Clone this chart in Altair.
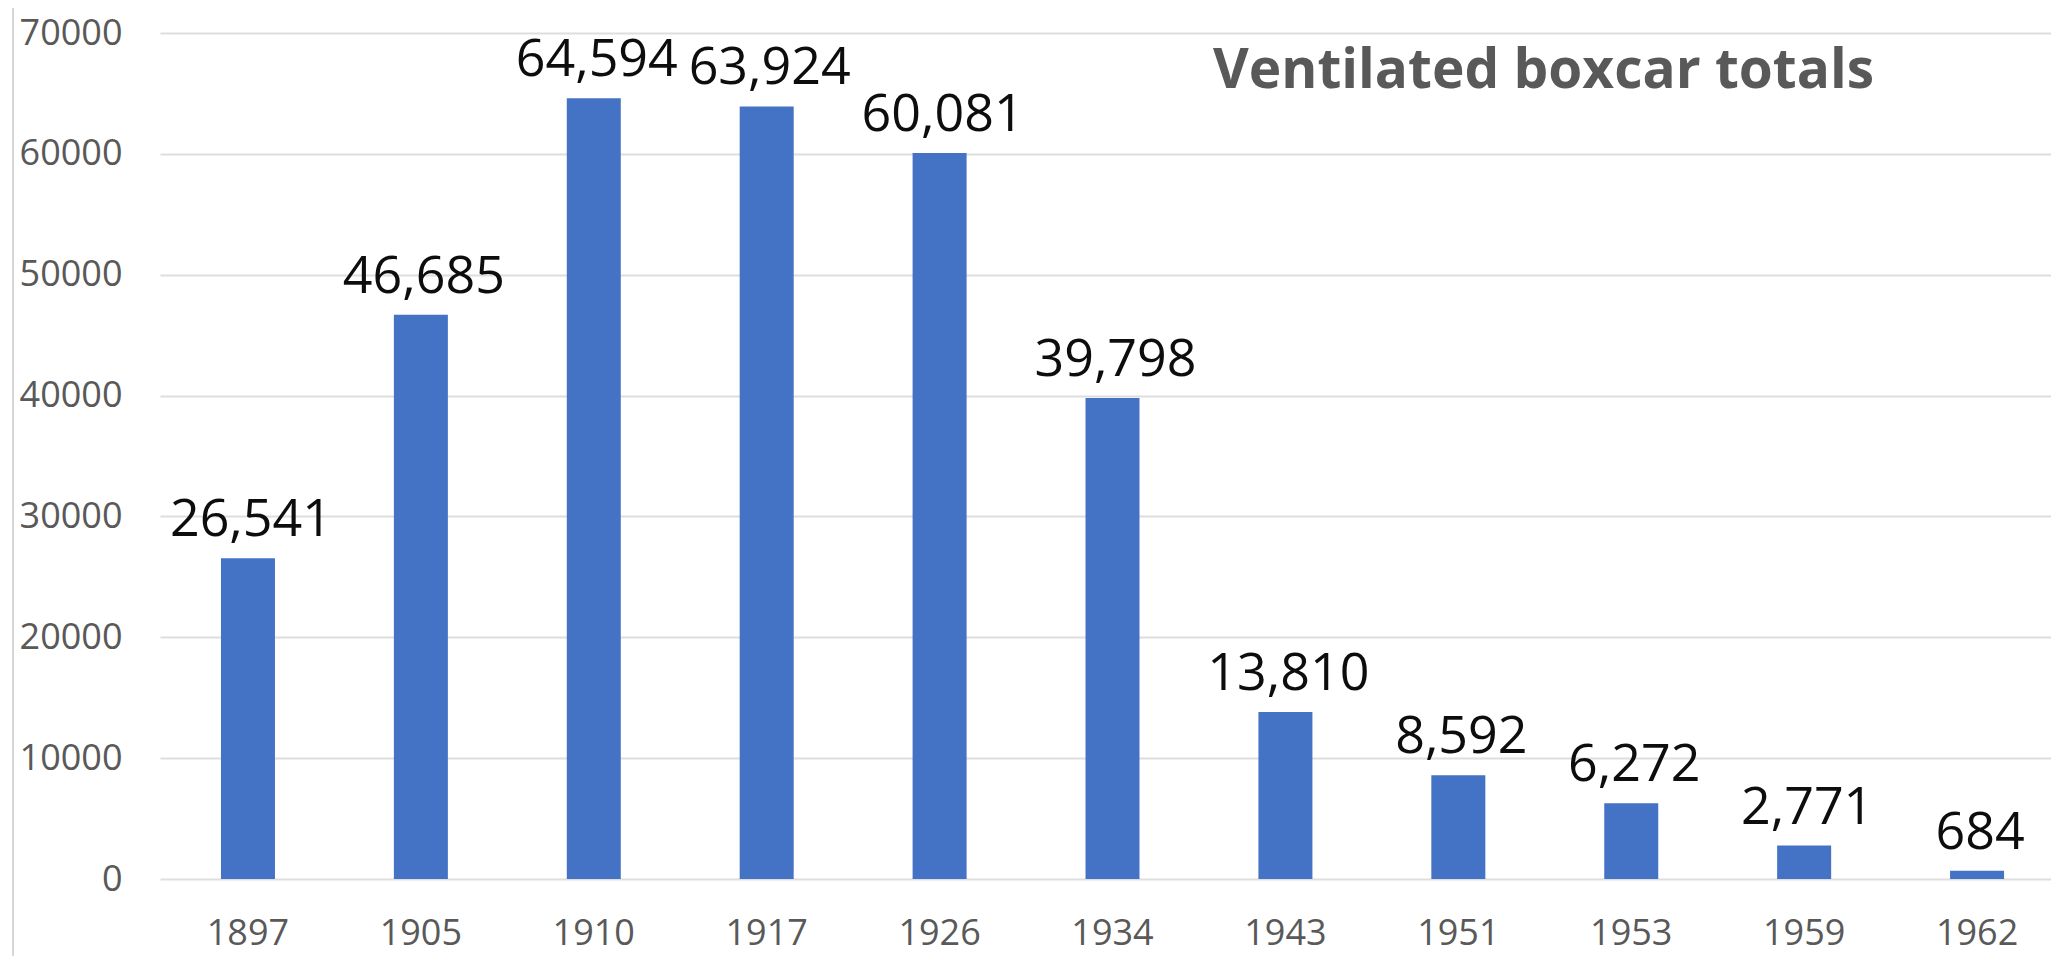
import altair as alt
import pandas as pd

years = ["1897", "1905", "1910", "1917", "1926", "1934", "1943", "1951", "1953", "1959", "1962"]
totals = [26541, 46685, 64594, 63924, 60081, 39798, 13810, 8592, 6272, 2771, 684]
y_ticks = [0, 10000, 20000, 30000, 40000, 50000, 60000, 70000]
title_text = "Ventilated boxcar totals"

df = pd.DataFrame({"year": years, "total": totals})

FONT = "Open Sans"
GRAY = "#595959"

x_enc = alt.X(
    "year:N",
    sort=years,
    scale=alt.Scale(paddingInner=0.6877, paddingOuter=0.312, align=0.565),
    axis=alt.Axis(
        title=None, labelAngle=0, ticks=False, tickSize=0, domain=False,
        labelFont=FONT, labelFontSize=36, labelColor=GRAY, labelPadding=37,
        grid=False,
    ),
)
y_enc = alt.Y(
    "total:Q",
    scale=alt.Scale(domain=[0, 70000], nice=False, zero=True),
    axis=alt.Axis(
        title=None, values=y_ticks, format="d", ticks=False, tickSize=0,
        domain=False, labelFont=FONT, labelFontSize=36, labelColor=GRAY,
        labelPadding=38, grid=True, gridColor="#dedede", gridWidth=2,
    ),
)

base = alt.Chart(df)

bars = base.mark_bar(color="#4472C4").encode(x=x_enc, y=y_enc)

labels = base.mark_text(
    baseline="alphabetic", dy=-22, dx=3, fontSize=52, font=FONT, color="#0d0d0d"
).encode(
    x=alt.X("year:N", sort=years),
    y=alt.Y("total:Q"),
    text=alt.Text("total:Q", format=","),
)

title = alt.Chart(pd.DataFrame({"t": [title_text]})).mark_text(
    align="left", baseline="alphabetic", fontSize=55, fontWeight="bold",
    font=FONT, color=GRAY,
).encode(x=alt.value(1053), y=alt.value(55), text="t:N")

ruler = alt.Chart(pd.DataFrame({"a": [0]})).mark_rule(
    color="#d6d6d6", strokeWidth=2
).encode(x=alt.value(-147), y=alt.value(-25), y2=alt.value(923))

chart = alt.layer(ruler, bars, labels, title).properties(
    width=1891,
    height=846,
    autosize=alt.AutoSizeParams(type="none"),
    padding={"left": 152, "top": 25, "right": 0, "bottom": 77},
    background="white",
).configure_view(stroke=None)

chart.save("out.html", embed_options={"renderer": "svg", "actions": False})
